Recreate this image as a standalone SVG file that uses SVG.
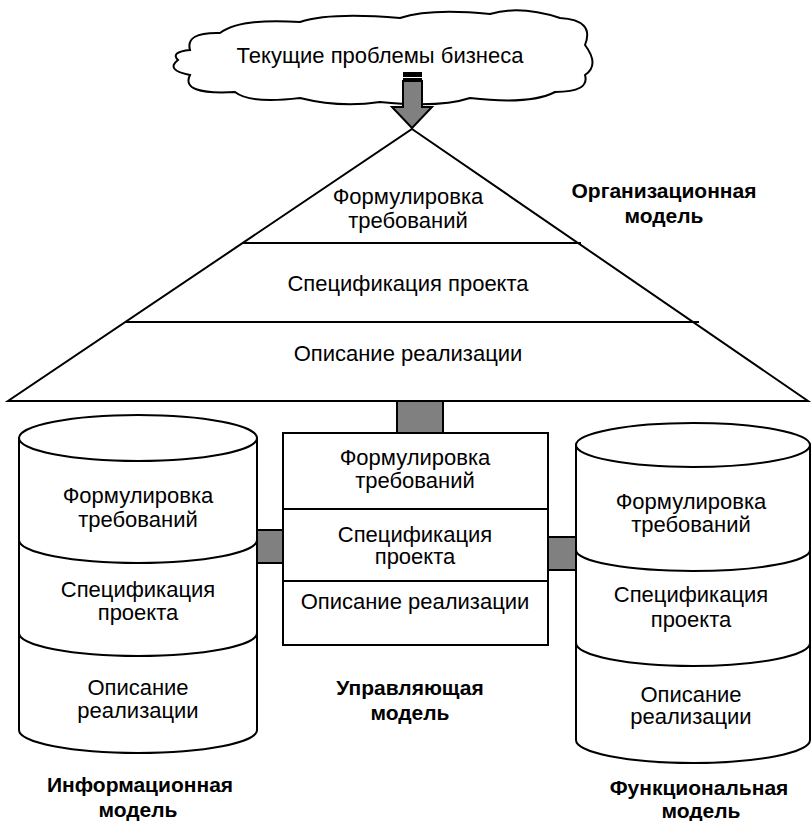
<svg xmlns="http://www.w3.org/2000/svg" width="812" height="821" viewBox="0 0 812 821">
<style>
.s{fill:none;stroke:#000;stroke-width:2}
.w{fill:#fff;stroke:#000;stroke-width:2}
.g{fill:#808080;stroke:#000;stroke-width:2}
text{font-family:"Liberation Sans",Arial,sans-serif;font-size:22px;fill:#000;text-anchor:middle}
.b{font-weight:bold;font-size:21px}
</style>
<rect width="812" height="821" fill="#fff"/>
<g id="connectors">
  <rect class="g" x="397" y="401" width="46" height="32"/>
  <rect class="g" x="257" y="530" width="26" height="33"/>
  <rect class="g" x="548" y="537" width="28" height="33"/>
</g>
<g id="cloud">
  <path class="w" d="M190,50 Q185,32 220,33 Q240,18 300,22 Q330,12 400,18 Q430,8 490,14 Q520,5 560,18 Q595,20 585,45 Q600,65 585,75 Q590,92 555,92 Q530,105 470,98 Q440,108 380,102 Q340,108 300,98 Q250,104 235,92 Q180,95 190,75 Q165,70 178,60 Q170,52 190,50 Z"/>
  <text x="380" y="63">Текущие проблемы бизнеса</text>
</g>
<g id="arrow">
  <path class="g" d="M403,81 H422 V107 H432 L412,128 L392,107 H403 Z"/>
  <rect x="403" y="72" width="19" height="5" fill="#000"/>
  <rect x="403" y="78" width="19" height="4" fill="#000"/>
</g>
<g id="org-model">
  <path class="w" d="M412,129 L808,401 L8,401 Z"/>
  <line class="s" x1="243" y1="243" x2="581" y2="243"/>
  <line class="s" x1="125" y1="322" x2="699" y2="322"/>
  <text x="408" y="204">Формулировка</text>
  <text x="408" y="228">требований</text>
  <text x="408" y="291">Спецификация проекта</text>
  <text x="408" y="361">Описание реализации</text>
  <text class="b" x="664" y="198">Организационная</text>
  <text class="b" x="664" y="223">модель</text>
</g>
<g id="control-model">
  <rect class="w" x="283" y="433" width="265" height="212"/>
  <line class="s" x1="283" y1="509" x2="548" y2="509"/>
  <line class="s" x1="283" y1="581" x2="548" y2="581"/>
  <text x="415" y="465">Формулировка</text>
  <text x="415" y="488">требований</text>
  <text x="415" y="542">Спецификация</text>
  <text x="415" y="564">проекта</text>
  <text x="415" y="609">Описание реализации</text>
  <text class="b" x="410" y="695">Управляющая</text>
  <text class="b" x="410" y="720">модель</text>
</g>
<g id="info-model">
  <path class="w" d="M19,438 V730 A119 23 0 0 0 257,730 V438 Z"/>
  <ellipse class="w" cx="138" cy="438" rx="119" ry="23"/>
  <path class="s" d="M19,540 A119 23 0 0 0 257,540"/>
  <path class="s" d="M19,633 A119 23 0 0 0 257,633"/>
  <text x="138" y="503">Формулировка</text>
  <text x="138" y="527">требований</text>
  <text x="138" y="597">Спецификация</text>
  <text x="138" y="620">проекта</text>
  <text x="138" y="695">Описание</text>
  <text x="138" y="718">реализации</text>
  <text class="b" x="140" y="792">Информационная</text>
  <text class="b" x="138" y="817">модель</text>
</g>
<g id="func-model">
  <path class="w" d="M576,445 V740 A117 23 0 0 0 810,740 V445 Z"/>
  <ellipse class="w" cx="693" cy="445" rx="117" ry="22"/>
  <path class="s" d="M576,550 A117 21 0 0 0 810,550"/>
  <path class="s" d="M576,643 A117 23 0 0 0 810,643"/>
  <text x="691" y="509">Формулировка</text>
  <text x="691" y="532">требований</text>
  <text x="691" y="602">Спецификация</text>
  <text x="691" y="627">проекта</text>
  <text x="691" y="702">Описание</text>
  <text x="691" y="724">реализации</text>
  <text class="b" x="699" y="795">Функциональная</text>
  <text class="b" x="701" y="818">модель</text>
</g>
</svg>
